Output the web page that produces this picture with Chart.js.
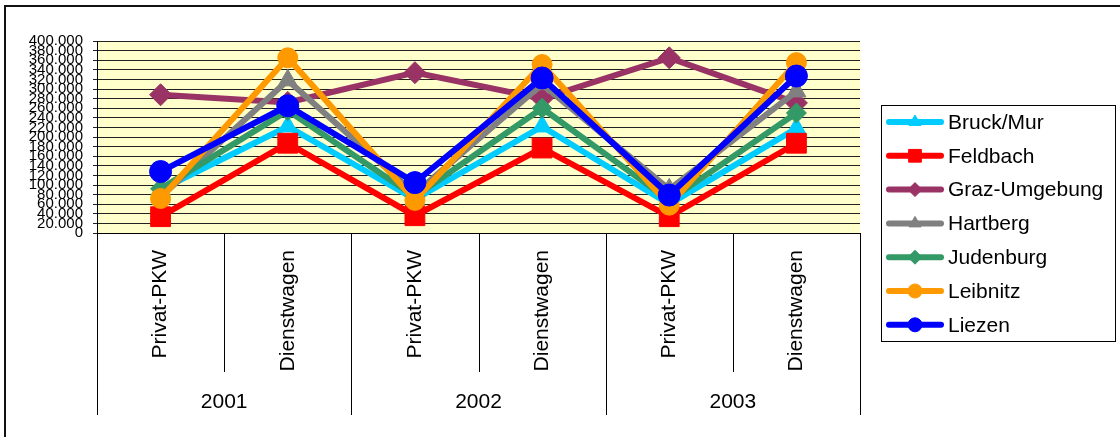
<!DOCTYPE html>
<html>
<head>
<meta charset="utf-8">
<script src="https://cdn.jsdelivr.net/npm/chart.js@4.4.1/dist/chart.umd.min.js"></script>
<style>
  html, body { margin: 0; padding: 0; background: #fff; }
  #wrap { width: 1120px; height: 437px; position: relative; }
  canvas { display: block; }
</style>
</head>
<body>
<div id="wrap"><canvas id="chart" width="1120" height="437"></canvas></div>
<script>
// Kilometre totals per district: private cars vs. company cars, 2001-2003
const categories = ['Privat-PKW', 'Dienstwagen', 'Privat-PKW', 'Dienstwagen', 'Privat-PKW', 'Dienstwagen'];
const years = ['2001', '2002', '2003'];
const seriesNames = ['Bruck/Mur', 'Feldbach', 'Graz-Umgebung', 'Hartberg', 'Judenburg', 'Leibnitz', 'Liezen'];

const bruckMur     = [90000, 222000, 70000, 222000, 60000, 218000];
const feldbach     = [34000, 187000, 36000, 177000, 34000, 187000];
const grazUmgebung = [288000, 272000, 334000, 280000, 365000, 271000];
const hartberg     = [75000, 318000, 82000, 310000, 91000, 295000];
const judenburg    = [92000, 255000, 76000, 260000, 68000, 250000];
const leibnitz     = [72000, 365000, 68000, 351000, 58000, 355000];
const liezen       = [128000, 265000, 105000, 323000, 79000, 327000];

const yMin = 0;
const yMax = 400000;
const yStep = 20000;

const FONT = "'Liberation Sans', Arial, Helvetica, sans-serif";

const seriesValues = [bruckMur, feldbach, grazUmgebung, hartberg, judenburg, leibnitz, liezen];
const seriesColors = ['#00CCFF', '#FF0000', '#993366', '#808080', '#339966', '#FF9900', '#0000FF'];
const seriesMarkers = ['triangle', 'rect', 'rectRot', 'triangle', 'rectRot', 'circle', 'circle'];
const markerRadius = [11, 14, 11, 11, 10, 10, 11];
const legendMarkerRadius = [7, 9, 7, 7, 7, 7, 7];

function formatThousands(v) {
  return String(v).replace(/\B(?=(\d{3})+(?!\d))/g, '.');
}

const datasets = seriesNames.map((name, i) => ({
  label: name,
  data: seriesValues[i],
  borderColor: seriesColors[i],
  backgroundColor: seriesColors[i],
  pointBackgroundColor: seriesColors[i],
  pointBorderColor: seriesColors[i],
  borderWidth: 6,
  pointStyle: seriesMarkers[i],
  pointRadius: markerRadius[i],
  pointBorderWidth: 1,
  tension: 0,
  fill: false,
  // later series are painted over earlier ones
  order: seriesNames.length - 1 - i
}));

function drawMarker(ctx, style, r, x, y) {
  if (Chart.helpers && Chart.helpers.drawPoint) {
    Chart.helpers.drawPoint(ctx, { pointStyle: style, radius: r, borderWidth: 1, rotation: 0 }, x, y);
    return;
  }
  ctx.beginPath();
  ctx.arc(x, y, r, 0, Math.PI * 2);
  ctx.fill();
}

const framePlugin = {
  id: 'frame',
  beforeDraw(chart) {
    const { ctx, chartArea: a } = chart;
    ctx.save();
    ctx.fillStyle = '#ffffff';
    ctx.fillRect(0, 0, chart.width, chart.height);
    ctx.fillStyle = '#FFFFCC';
    ctx.fillRect(a.left, a.top, a.right - a.left, a.bottom - a.top);
    // outer frame, top and left edges
    ctx.fillStyle = '#111';
    ctx.fillRect(4, 5, chart.width - 4, 2);
    ctx.fillRect(4, 5, 2, chart.height - 5);
    ctx.restore();
  },
  afterDraw(chart) {
    const { ctx } = chart;
    const xs = chart.scales.x;
    const xg = chart.scales.x2;
    const perGroup = categories.length / years.length;
    const step = xs.getPixelForValue(1) - xs.getPixelForValue(0);
    const first = xs.getPixelForValue(0) - step / 2;

    ctx.save();
    // category / year separators below the axis
    ctx.strokeStyle = '#000';
    ctx.lineWidth = 1;
    for (let i = 0; i <= categories.length; i++) {
      const px = Math.round(first + i * step) + 0.5;
      const major = i % perGroup === 0;
      ctx.beginPath();
      ctx.moveTo(px, xs.top);
      ctx.lineTo(px, major ? xg.bottom : xs.bottom);
      ctx.stroke();
    }

    // legend box
    const lx = 881.5, ly = 105.5, lw = 234, lh = 236;
    ctx.strokeStyle = '#000';
    ctx.lineWidth = 1;
    ctx.strokeRect(lx, ly, lw, lh);

    chart.data.datasets.forEach((ds, i) => {
      const cy = 122 + i * 33.8;
      ctx.strokeStyle = ds.borderColor;
      ctx.fillStyle = ds.borderColor;
      ctx.lineWidth = 6;
      ctx.lineCap = 'round';
      ctx.beginPath();
      ctx.moveTo(889, cy);
      ctx.lineTo(941, cy);
      ctx.stroke();
      ctx.lineCap = 'butt';
      ctx.lineWidth = 1;
      drawMarker(ctx, ds.pointStyle, legendMarkerRadius[i], 915, cy);

      ctx.fillStyle = '#000';
      ctx.font = '21px ' + FONT;
      ctx.textAlign = 'left';
      ctx.textBaseline = 'middle';
      ctx.fillText(ds.label, 948, cy + 1);
    });
    ctx.restore();
  }
};

new Chart(document.getElementById('chart'), {
  type: 'line',
  data: { labels: categories, datasets },
  options: {
    responsive: false,
    animation: false,
    devicePixelRatio: 1,
    layout: { padding: { left: 0, top: 41, right: 260, bottom: 22 } },
    plugins: {
      legend: { display: false },
      tooltip: { enabled: false }
    },
    scales: {
      x: {
        type: 'category',
        position: 'bottom',
        weight: 0,
        offset: true,
        grid: { display: false, drawTicks: false, tickLength: 0 },
        border: { display: true, color: '#000', width: 1 },
        ticks: {
          autoSkip: false,
          minRotation: 90,
          maxRotation: 90,
          padding: 17,
          color: '#000',
          font: { family: FONT, size: 21 }
        },
        afterFit(scale) { scale.height = 139; }
      },
      x2: {
        type: 'category',
        position: 'bottom',
        weight: 1,
        labels: years,
        offset: true,
        grid: { display: false, drawTicks: false, tickLength: 0 },
        border: { display: false },
        ticks: {
          autoSkip: false,
          maxRotation: 0,
          padding: 18,
          color: '#000',
          font: { family: FONT, size: 21 }
        },
        afterFit(scale) { scale.height = 43; }
      },
      y: {
        min: yMin,
        max: yMax,
        grid: { color: '#222', lineWidth: 1, drawTicks: true, tickLength: 4 },
        border: { display: true, color: '#000', width: 1 },
        ticks: {
          stepSize: yStep,
          autoSkip: false,
          padding: 10,
          color: '#000',
          font: { family: FONT, size: 15 },
          callback: (v) => formatThousands(v)
        },
        afterFit(scale) { scale.width = 97; }
      }
    }
  },
  plugins: [framePlugin]
});
</script>
</body>
</html>
